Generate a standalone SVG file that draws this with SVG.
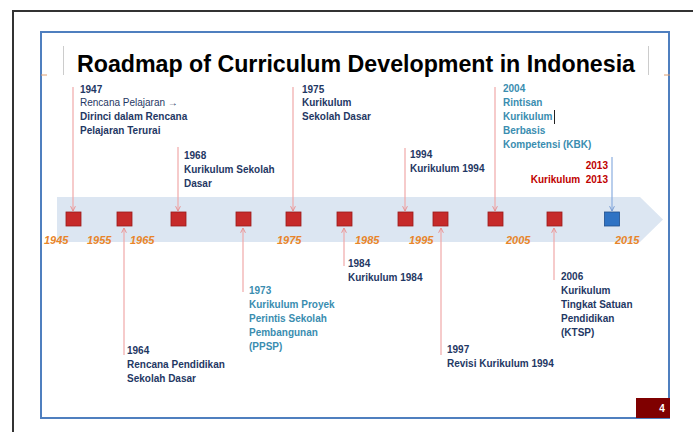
<svg xmlns="http://www.w3.org/2000/svg" width="693" height="432" viewBox="0 0 693 432">
<defs>
<style>
.t{font-family:"Liberation Sans",Arial,sans-serif;font-size:10px;font-weight:bold;fill:#1f3864}
.r{font-weight:normal}
.teal{fill:#3a8db0}
.red{fill:#c00000}
.yr{font-family:"Liberation Sans",Arial,sans-serif;font-size:11px;font-weight:bold;font-style:italic;fill:#e8852a}
.sq{fill:#c62a2a;stroke:#9a1b1b;stroke-width:0.8}
.ln{stroke:#f0a8a8;stroke-width:1.2;fill:none}
.lb{stroke:#8aaee0;stroke-width:1.2;fill:none}
</style>
<marker id="ar" viewBox="0 0 10 10" refX="9" refY="5" markerWidth="6" markerHeight="6" orient="auto-start-reverse" markerUnits="userSpaceOnUse">
<path d="M1,1 L9,5 L1,9" fill="none" stroke="#e88a8a" stroke-width="1.5"/>
</marker>
<marker id="ab" viewBox="0 0 10 10" refX="9" refY="5" markerWidth="6" markerHeight="6" orient="auto-start-reverse" markerUnits="userSpaceOnUse">
<path d="M1,1 L9,5 L1,9" fill="none" stroke="#6f95cf" stroke-width="1.5"/>
</marker>
</defs>
<rect width="693" height="432" fill="#ffffff"/>
<path d="M13,432 L13,11 L693,11" fill="none" stroke="#333333" stroke-width="2"/>
<rect x="41" y="32" width="628" height="386" fill="none" stroke="#4f7fbf" stroke-width="2"/>
<path d="M41,75 L47,75 M664,75 L670,75" stroke="#e0a070" stroke-width="1"/>
<g id="title">
<path d="M63.5,46 L63.5,75 M648.5,46 L648.5,75" stroke="#cccccc" stroke-width="1"/>
<text x="77" y="72" font-family="'Liberation Sans',Arial,sans-serif" font-size="23" font-weight="bold" fill="#000000" textLength="558" lengthAdjust="spacingAndGlyphs">Roadmap of Curriculum Development in Indonesia</text>
</g>
<g id="timeline">
<path d="M57,197 L640,197 L663,219.5 L640,242 L57,242 Z" fill="#dce6f2"/>
<text class="yr" x="44" y="244">1945</text>
<text class="yr" x="87" y="244">1955</text>
<text class="yr" x="130" y="244">1965</text>
<text class="yr" x="277" y="244">1975</text>
<text class="yr" x="355" y="244">1985</text>
<text class="yr" x="409" y="244">1995</text>
<text class="yr" x="506" y="244">2005</text>
<text class="yr" x="615" y="244">2015</text>
</g>
<g id="connectors">
<line class="ln" x1="73" y1="87" x2="73" y2="211" marker-end="url(#ar)"/>
<line class="ln" x1="178" y1="147" x2="178" y2="211" marker-end="url(#ar)"/>
<line class="ln" x1="293" y1="87" x2="293" y2="211" marker-end="url(#ar)"/>
<line class="ln" x1="405" y1="148" x2="405" y2="211" marker-end="url(#ar)"/>
<line class="ln" x1="495" y1="87" x2="495" y2="211" marker-end="url(#ar)"/>
<line class="lb" x1="612" y1="157" x2="612" y2="211" marker-end="url(#ab)"/>
<line class="ln" x1="124" y1="355" x2="124" y2="228" marker-end="url(#ar)"/>
<line class="ln" x1="243" y1="292" x2="243" y2="228" marker-end="url(#ar)"/>
<line class="ln" x1="344" y1="266" x2="344" y2="228" marker-end="url(#ar)"/>
<line class="ln" x1="441" y1="355" x2="441" y2="228" marker-end="url(#ar)"/>
<line class="ln" x1="554" y1="280" x2="554" y2="228" marker-end="url(#ar)"/>
</g>
<g id="n1947"><rect class="sq" x="66" y="212" width="15" height="14"/>
<text class="t" x="80" y="93">1947</text>
<text class="t r" x="80" y="106">Rencana Pelajaran →</text>
<text class="t" x="80" y="120">Dirinci dalam Rencana</text>
<text class="t" x="80" y="134">Pelajaran Terurai</text></g>
<g id="n1964"><rect class="sq" x="117" y="212" width="15" height="14"/>
<text class="t" x="127" y="354">1964</text>
<text class="t" x="127" y="368">Rencana Pendidikan</text>
<text class="t" x="127" y="382">Sekolah Dasar</text></g>
<g id="n1968"><rect class="sq" x="171" y="212" width="15" height="14"/>
<text class="t" x="184" y="159">1968</text>
<text class="t" x="184" y="173">Kurikulum Sekolah</text>
<text class="t" x="184" y="187">Dasar</text></g>
<g id="n1973"><rect class="sq" x="236" y="212" width="15" height="14"/>
<text class="t teal" x="249" y="294">1973</text>
<text class="t teal" x="249" y="308">Kurikulum Proyek</text>
<text class="t teal" x="249" y="322">Perintis Sekolah</text>
<text class="t teal" x="249" y="336">Pembangunan</text>
<text class="t teal" x="249" y="350">(PPSP)</text></g>
<g id="n1975"><rect class="sq" x="286" y="212" width="15" height="14"/>
<text class="t" x="302" y="93">1975</text>
<text class="t" x="302" y="106">Kurikulum</text>
<text class="t" x="302" y="120">Sekolah Dasar</text></g>
<g id="n1984"><rect class="sq" x="337" y="212" width="15" height="14"/>
<text class="t" x="348" y="267">1984</text>
<text class="t" x="348" y="281">Kurikulum 1984</text></g>
<g id="n1994"><rect class="sq" x="398" y="212" width="15" height="14"/>
<text class="t" x="410" y="158">1994</text>
<text class="t" x="410" y="172">Kurikulum 1994</text></g>
<g id="n1997"><rect class="sq" x="433" y="212" width="15" height="14"/>
<text class="t" x="447" y="353">1997</text>
<text class="t" x="447" y="367">Revisi Kurikulum 1994</text></g>
<g id="n2004"><rect class="sq" x="488" y="212" width="15" height="14"/>
<text class="t teal" x="503" y="92">2004</text>
<text class="t teal" x="503" y="106">Rintisan</text>
<text class="t teal" x="503" y="120">Kurikulum</text>
<text class="t teal" x="503" y="134">Berbasis</text>
<text class="t teal" x="503" y="148">Kompetensi (KBK)</text>
<line x1="554.5" y1="110" x2="554.5" y2="124" stroke="#222222" stroke-width="1"/></g>
<g id="n2006"><rect class="sq" x="547" y="212" width="15" height="14"/>
<text class="t" x="561" y="280">2006</text>
<text class="t" x="561" y="294">Kurikulum</text>
<text class="t" x="561" y="308">Tingkat Satuan</text>
<text class="t" x="561" y="322">Pendidikan</text>
<text class="t" x="561" y="336">(KTSP)</text></g>
<g id="n2013"><rect x="604.5" y="212" width="15" height="14" fill="#2f73c4" stroke="#1f4e8c" stroke-width="0.8"/>
<text class="t red" x="608" y="169" text-anchor="end">2013</text>
<text class="t red" x="608" y="183" text-anchor="end" xml:space="preserve">Kurikulum  2013</text></g>
<g id="page">
<rect x="636" y="398" width="34" height="20" fill="#7f0000"/>
<text x="662" y="412" font-family="'Liberation Sans',Arial,sans-serif" font-size="10" font-weight="bold" fill="#ffffff" text-anchor="middle">4</text>
</g>
</svg>
